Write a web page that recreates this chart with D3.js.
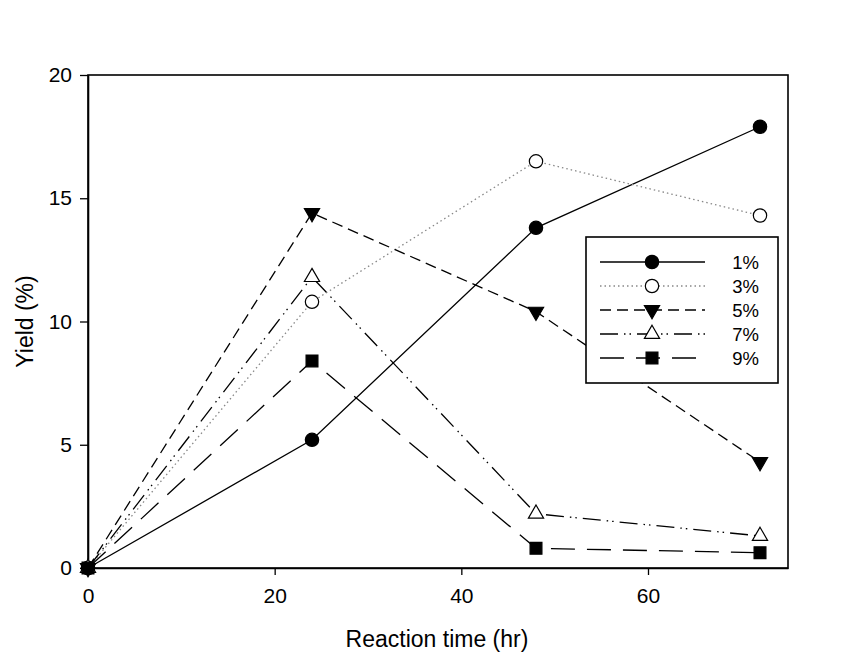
<!DOCTYPE html>
<html><head><meta charset="utf-8">
<script src="https://cdn.jsdelivr.net/npm/d3@7"></script>
<style>body{margin:0;background:#fff}svg{display:block}text{font-family:"Liberation Sans",Arial,sans-serif;fill:#000}</style>
</head><body>
<svg id="c" width="865" height="656"></svg>
<script>
const times = [0, 24, 48, 72];
const seriesNames = ["1%", "3%", "5%", "7%", "9%"];
const y1 = [0, 5.2, 13.8, 17.9];
const y3 = [0, 10.8, 16.5, 14.3];
const y5 = [0, 14.4, 10.4, 4.3];
const y7 = [0, 11.8, 2.2, 1.3];
const y9 = [0, 8.4, 0.8, 0.62];
const xTicks = [0, 20, 40, 60];
const yTicks = [0, 5, 10, 15, 20];

const seriesVals = [y1, y3, y5, y7, y9];
const styles = [
  {dash: null, color: "#000", sym: d3.symbolCircle, fill: "#000"},
  {dash: "1.5,3", color: "#888", sym: d3.symbolCircle, fill: "#fff"},
  {dash: "11,6", color: "#000", sym: d3.symbolTriangle, fill: "#000", flip: true},
  {dash: "18,6,1.5,4,1.5,6", color: "#000", sym: d3.symbolTriangle, fill: "#fff"},
  {dash: "24,12", color: "#000", sym: d3.symbolSquare, fill: "#000"}
];

const svg = d3.select("#c");
const L = 88, R = 788, T = 75, B = 568;
const x = d3.scaleLinear().domain([0, 75]).range([L, R]);
const y = d3.scaleLinear().domain([0, 20]).range([B, T]);

svg.append("rect").attr("x", L).attr("y", T).attr("width", R - L).attr("height", B - T)
  .attr("fill", "none").attr("stroke", "#000").attr("stroke-width", 1.6);

const xa = svg.append("g").attr("transform", `translate(0,${B})`)
  .call(d3.axisBottom(x).tickValues(xTicks).tickSizeInner(7).tickSizeOuter(0).tickPadding(13).tickFormat(d3.format("d")));
const ya = svg.append("g").attr("transform", `translate(${L},0)`)
  .call(d3.axisLeft(y).tickValues(yTicks).tickSizeInner(8).tickSizeOuter(0).tickPadding(8).tickFormat(d3.format("d")));
[xa, ya].forEach(a => {
  a.select(".domain").attr("stroke-width", 1.6);
  a.selectAll(".tick line").attr("stroke-width", 1.3);
  a.selectAll("text").style("font-size", "21px").style("font-family", "Liberation Sans, Arial, sans-serif");
});

svg.append("text").attr("x", 437).attr("y", 647).attr("text-anchor", "middle")
  .style("font-size", "23px").text("Reaction time (hr)");
svg.append("text").attr("transform", `translate(33,321.5) rotate(-90)`).attr("text-anchor", "middle")
  .style("font-size", "23px").text("Yield (%)");

const line = d3.line().x((d, i) => x(times[i])).y(d => y(d));
const symbolPath = (s) => d3.symbol().type(s.sym).size(s.sym === d3.symbolSquare ? 140 : (s.sym === d3.symbolTriangle ? 100 : 140))();

seriesVals.forEach((vals, k) => {
  const s = styles[k];
  svg.append("path").datum(vals).attr("d", line).attr("fill", "none")
    .attr("stroke", s.color).attr("stroke-width", 1.3)
    .attr("stroke-dasharray", s.dash);
});
seriesVals.forEach((vals, k) => {
  const s = styles[k];
  svg.append("g").selectAll("path").data(vals).join("path")
    .attr("d", symbolPath(s))
    .attr("transform", (d, i) => `translate(${x(times[i])},${y(d)})${s.flip ? " rotate(180)" : ""}`)
    .attr("fill", s.fill).attr("stroke", "#000").attr("stroke-width", 1.2);
});

const lg = svg.append("g");
lg.append("rect").attr("x", 586).attr("y", 237).attr("width", 192).attr("height", 146)
  .attr("fill", "#fff").attr("stroke", "#000").attr("stroke-width", 1.6);
seriesNames.forEach((name, k) => {
  const s = styles[k];
  const yy = 262 + k * 24;
  lg.append("line").attr("x1", 600).attr("x2", 705).attr("y1", yy).attr("y2", yy)
    .attr("stroke", s.color).attr("stroke-width", 1.3).attr("stroke-dasharray", s.dash);
  lg.append("path").attr("d", symbolPath(s))
    .attr("transform", `translate(652,${yy})${s.flip ? " rotate(180)" : ""}`)
    .attr("fill", s.fill).attr("stroke", "#000").attr("stroke-width", 1.2);
  lg.append("text").attr("x", 759).attr("y", yy + 6.5).attr("text-anchor", "end")
    .style("font-size", "18.5px").text(name);
});
</script>
</body></html>
